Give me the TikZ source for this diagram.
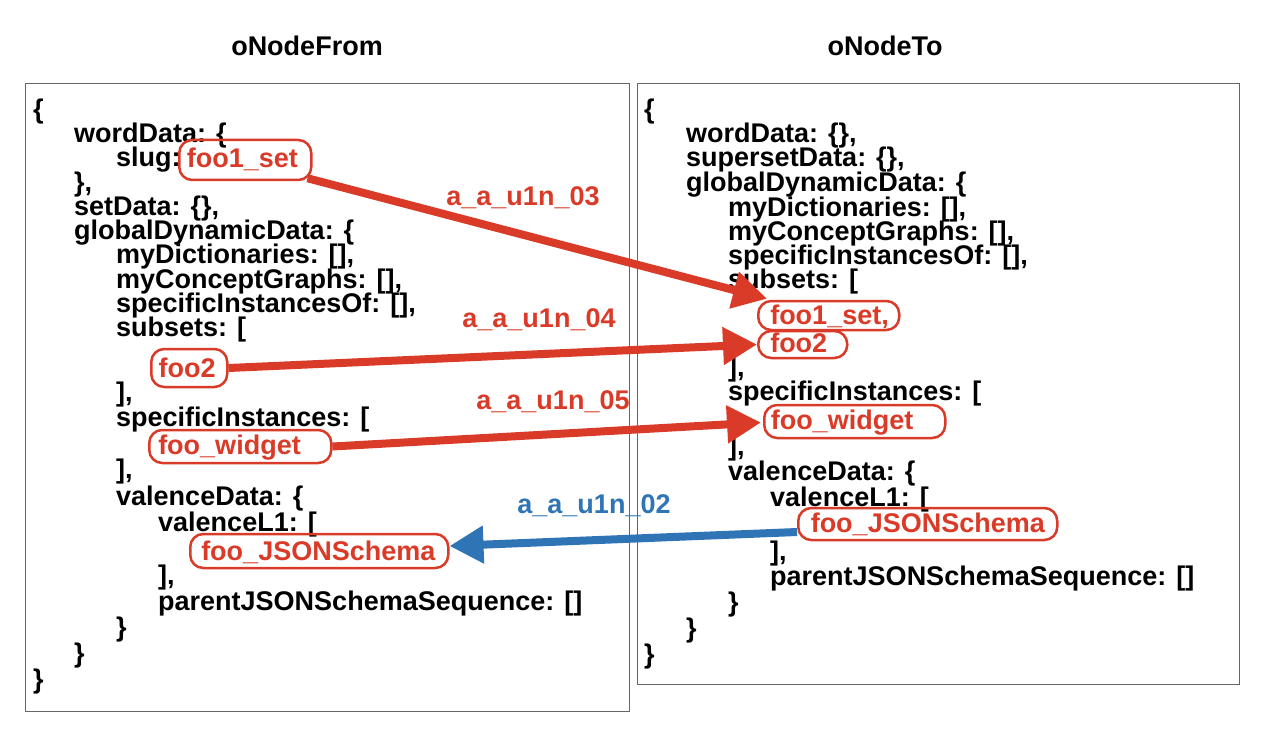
\documentclass[tikz,border=0pt]{standalone}
\usepackage{fontspec}
\setmainfont{Liberation Sans}
\usetikzlibrary{arrows.meta}
\definecolor{myred}{RGB}{218,59,40}
\definecolor{myblue}{RGB}{47,117,181}
\definecolor{framegray}{RGB}{102,102,102}
\newcommand\jfont{\fontsize{27}{27}\selectfont\bfseries}
\begin{document}
\begin{tikzpicture}[x=1pt,y=-1pt,
 txt/.style={anchor=base west, inner sep=0pt, font=\jfont},
 ttl/.style={anchor=base, inner sep=0pt, font=\jfont},
 frame/.style={draw=framegray, line width=1pt},
 hl/.style={draw=myred, line width=2.5pt, rounded corners=13pt, text=myred, inner sep=0pt, text height=20pt, anchor=west, font=\jfont},
 lbl/.style={anchor=base, inner sep=0pt, font=\jfont},
 redarrow/.style={draw=myred, line width=8pt, -{Triangle[length=34pt,width=36pt]}},
 bluearrow/.style={draw=myblue, line width=8pt, -{Triangle[length=34pt,width=36pt]}}
]
\useasboundingbox (0,0) rectangle (1268,730);
\fill[white] (0,0) rectangle (1268,730);

% titles
\node[ttl] (tFrom) at (307,56) {oNodeFrom};
\node[ttl] (tTo) at (885,56) {oNodeTo};

% frames
\draw[frame] (25,84) rectangle (629,711);
\draw[frame] (637,84) rectangle (1239,684);

% left column
\node[txt] (l0) at (33,118.5) {\{};
\node[txt] (l1) at (74,142.7) {wordData: \{};
\node[txt] (l2) at (116,167) {slug:};
\node[hl, minimum height=40pt, text depth=5.4pt] (Lfoo1) at (178,160) {\makebox[132pt][l]{\hspace{7.7pt}foo1\_set}};
\node[txt] (l3) at (74,191.2) {\},};
\node[txt] (l4) at (74,215.4) {setData: \{\},};
\node[txt] (l5) at (74,239.6) {globalDynamicData: \{};
\node[txt] (l6) at (116,263.8) {myDictionaries: [],};
\node[txt] (l7) at (116,288) {myConceptGraphs: [],};
\node[txt] (l8) at (116,312.2) {specificInstancesOf: [],};
\node[txt] (l9) at (116,336.4) {subsets: [};
\node[hl, minimum height=38pt, text depth=2pt] (Lfoo2) at (150,368) {\makebox[76pt][l]{\hspace{7.3pt}foo2}};
\node[txt] (l10) at (116,401) {],};
\node[txt] (l11) at (116,426.5) {specificInstances: [};
\node[hl, minimum height=33pt, text depth=5pt] (Lwid) at (148,446.5) {\makebox[182pt][l]{\hspace{9pt}foo\_widget}};
\node[txt] (l12) at (116,478) {],};
\node[txt] (l13) at (116,505) {valenceData: \{};
\node[txt] (l14) at (158,531) {valenceL1: [};
\node[hl, minimum height=34pt, text depth=2pt] (LJSON) at (189,551) {\makebox[258pt][l]{\hspace{11pt}foo\_JSONSchema}};
\node[txt] (l15) at (158,584) {],};
\node[txt] (l16) at (158,610) {parentJSONSchemaSequence: []};
\node[txt] (l17) at (116,636) {\}};
\node[txt] (l18) at (74,662) {\}};
\node[txt] (l19) at (33,688) {\}};

% right column
\node[txt] (r0) at (644,118.5) {\{};
\node[txt] (r1) at (686,142.7) {wordData: \{\},};
\node[txt] (r2) at (686,167) {supersetData: \{\},};
\node[txt] (r3) at (686,191.5) {globalDynamicData: \{};
\node[txt] (r4) at (728,216) {myDictionaries: [],};
\node[txt] (r5) at (728,240) {myConceptGraphs: [],};
\node[txt] (r6) at (728,264) {specificInstancesOf: [],};
\node[txt] (r7) at (728,288.3) {subsets: [};
\node[hl, minimum height=29pt, text depth=3pt] (Rfoo1) at (757,315.5) {\makebox[141pt][l]{\hspace{12pt}foo1\_set,}};
\node[hl, minimum height=27pt, text depth=5pt] (Rfoo2) at (757,344.5) {\makebox[89pt][l]{\hspace{12pt}foo2}};
\node[txt] (r8) at (728,376) {],};
\node[txt] (r9) at (728,400) {specificInstances: [};
\node[hl, minimum height=33pt, text depth=4pt] (Rwid) at (763,421.5) {\makebox[181pt][l]{\hspace{6.5pt}foo\_widget}};
\node[txt] (r10) at (728,455) {],};
\node[txt] (r11) at (728,480) {valenceData: \{};
\node[txt] (r12) at (770,506) {valenceL1: [};
\node[hl, minimum height=32pt, text depth=4pt] (RJSON) at (797,524) {\makebox[259pt][l]{\hspace{12.5pt}foo\_JSONSchema}};
\node[txt] (r13) at (770,560) {],};
\node[txt] (r14) at (770,585) {parentJSONSchemaSequence: []};
\node[txt] (r15) at (728,611) {\}};
\node[txt] (r16) at (686,637) {\}};
\node[txt] (r17) at (644,663) {\}};

% edge labels
\node[lbl, text=myred] (e03) at (523,205.5) {a\_a\_u1n\_03};
\node[lbl, text=myred] (e04) at (539,327) {a\_a\_u1n\_04};
\node[lbl, text=myred] (e05) at (553,409) {a\_a\_u1n\_05};
\node[lbl, text=myblue] (e02) at (594,513) {a\_a\_u1n\_02};

% connectors
\draw[redarrow] ([xshift=-5pt,yshift=3pt]Lfoo1.south east) -- ([xshift=10pt,yshift=1pt]Rfoo1.north west);
\draw[redarrow] (Lfoo2.east) -- (Rfoo2.west);
\draw[redarrow] (Lwid.east) -- ([xshift=-2pt,yshift=-1pt]Rwid.west);
\draw[bluearrow] ([yshift=-8pt]RJSON.west) -- ([yshift=5pt]LJSON.east);
\end{tikzpicture}
\end{document}
